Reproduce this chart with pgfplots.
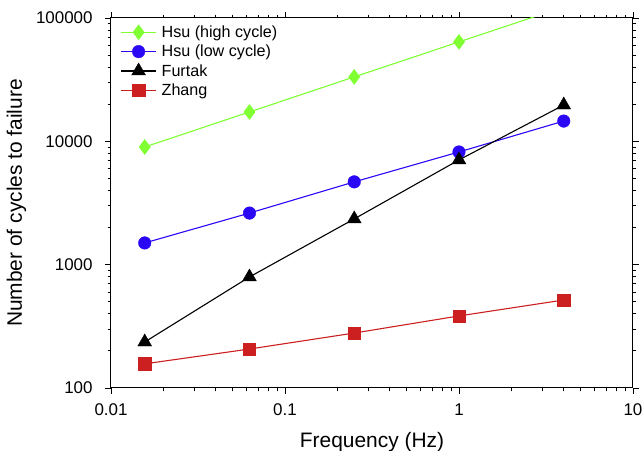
\documentclass[border=0pt]{standalone}
\usepackage{fontspec}
\setmainfont{Liberation Sans}
\usepackage{pgfplots}
\pgfplotsset{compat=1.18}
\definecolor{hgreen}{HTML}{80FF33}
\definecolor{hblue}{HTML}{2A08F5}
\definecolor{fblack}{HTML}{000000}
\definecolor{zred}{HTML}{CC2020}

\pgfplotsset{
  ser/.style={color=#1, line width=1.1bp, mark options={solid, fill=#1, draw=#1, line width=0.4bp}},
}

\begin{document}
\begin{tikzpicture}
\begin{axis}[
  scale only axis, width=522bp, height=370bp,
  xmode=log, ymode=log,
  xmin=0.01, xmax=10, ymin=100, ymax=100000,
  xtick={0.01,0.1,1,10}, xticklabels={0.01,0.1,1,10},
  ytick={100,1000,10000,100000}, yticklabels={100,1000,10000,100000},
  tick align=outside, major tick length=6bp, minor tick length=3.5bp,
  tick style={black, line width=0.8bp},
  axis line style={line width=1bp},
  ticklabel style={font=\fontsize{17}{20}\selectfont},
  /pgf/number format/assume math mode=true,
  xticklabel shift=6bp, yticklabel shift=9bp,
  xlabel={Frequency (Hz)}, ylabel={Number of cycles to failure},
  label style={font=\fontsize{21}{24}\selectfont},
  xlabel style={yshift=-10bp},
  ylabel style={yshift=3bp},
  legend cell align=left,
  legend style={at={(0.016,0.988)}, anchor=north west, draw=none, fill=none,
    font=\fontsize{16.2}{18}\selectfont, row sep=2.2bp, inner sep=1bp,
    /tikz/every odd column/.append style={column sep=3bp}},
  legend image code/.code={
    \draw[#1] (0bp,0bp) -- (35bp,0bp);
    \draw[#1, only marks] plot coordinates {(17.5bp,0bp)};
  },
  clip=true,
]
\addplot[ser=hgreen, mark=diamond*, mark size=7.5bp] coordinates {
  (0.015625,9000) (0.0625,17300) (0.25,33300) (1,64000) (4,123000)};
\addlegendentry{Hsu (high cycle)}
\addplot[ser=hblue, mark=*, mark size=6.3bp] coordinates {
  (0.015625,1500) (0.0625,2620) (0.25,4690) (1,8200) (4,14600)};
\addlegendentry{Hsu (low cycle)}
\addplot[ser=fblack, mark=triangle*, mark size=8bp] coordinates {
  (0.015625,236) (0.0625,795) (0.25,2350) (1,7070) (4,19700)};
\addlegendentry{Furtak}
\addplot[ser=zred, mark=square*, mark size=6.2bp] coordinates {
  (0.015625,157) (0.0625,207) (0.25,279) (1,384) (4,517)};
\addlegendentry{Zhang}
\end{axis}
\pgfresetboundingbox
\path[use as bounding box] (current axis.south west) ++(-111bp,-63bp) rectangle ++(644bp,451bp);
\end{tikzpicture}
\end{document}
